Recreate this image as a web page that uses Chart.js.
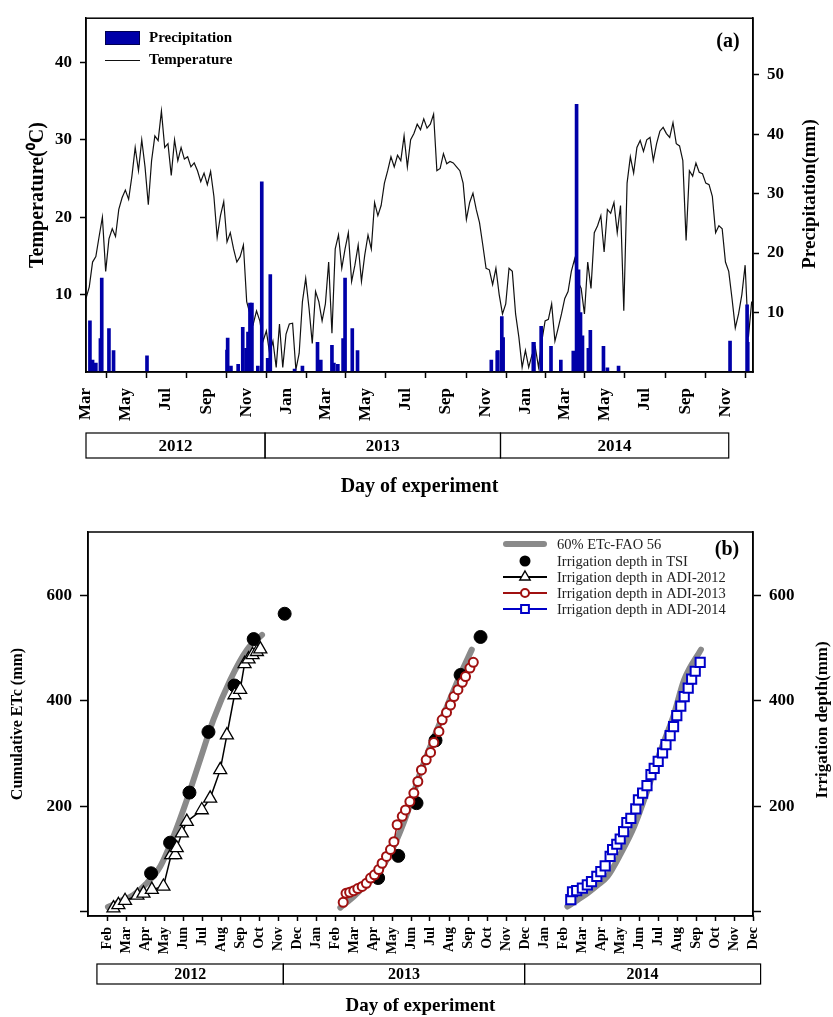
<!DOCTYPE html>
<html>
<head>
<meta charset="utf-8">
<script src="https://cdn.jsdelivr.net/npm/chart.js@4.4.0/dist/chart.umd.min.js"></script>
<style>
html, body { margin: 0; padding: 0; background: #fff; }
#wrap { position: relative; width: 833px; height: 1017px; }
#chartA { position: absolute; left: 0; top: 0; }
#chartB { position: absolute; left: 0; top: 500px; }
</style>
</head>
<body>
<div id="wrap">
  <canvas id="chartA" width="833" height="500"></canvas>
  <canvas id="chartB" width="833" height="517"></canvas>
</div>
<script>
// ======================
// Panel (a) data
// ======================
// daily temperature, one value every 5 days from 1 Mar 2012
const tempStepDays = 5;
const tempValues = [
    9.5, 11, 14.2, 14.9, 17.5, 20, 13, 17.2, 18.5, 17.5,
    21, 22.5, 23.5, 22.3, 25.3, 29, 26, 30, 26.5, 21.6,
    27.3, 30.5, 29.9, 33.7, 29, 29.5, 25.4, 30, 27.3, 29,
    27.5, 27.8, 26.5, 27, 26, 24.6, 25.7, 24.2, 25.9, 22.7,
    17.4, 20.2, 22, 16.8, 18, 15.9, 14.2, 14.9, 16.4, 9.1,
    7.5, 6.2, 7.9, 6.6, 4, 5.3, 2.4, 4, 0.6, 6.2,
    0.6, 4.9, 6.2, 6.3, 0.3, 2.4, 9.1, 12.1, 8.3, 3.7,
    10.4, 9.1, 6.6, 8.8, 14.2, 5, 15.9, 17.7, 13.4, 15.9,
    18, 11.7, 13.8, 16.4, 11.7, 15.1, 17.7, 15.9, 21.9, 20.2,
    21.5, 24.4, 26, 27.8, 26.5, 28, 27.3, 30.5, 26.5, 30,
    30.8, 32, 31.3, 32.7, 31.5, 32, 33.3, 26, 26.3, 28.2,
    26.9, 27.2, 27, 26.5, 26, 24.4, 19.7, 21.9, 23.1, 21,
    19.3, 16.4, 13.4, 13.2, 11.3, 13.4, 10, 7.5, 8.8, 13.4,
    13, 7.5, 4.5, 0.6, 2.8, 0.6, 2.2, 3.2, 0.6, 4,
    6.6, 6.8, 8.8, 4, 5.7, 7.5, 9.5, 10.4, 13, 14.6,
    11.7, 10.8, 7.5, 14.2, 10.8, 18, 18.9, 20.2, 15.5, 21,
    20.5, 21.9, 18, 21.5, 7.9, 24.4, 27.8, 25.7, 29, 29.9,
    28.5, 30, 30.3, 27.3, 29.5, 31.1, 31.6, 30.8, 30.3, 32.2,
    29.5, 29.2, 27.3, 17, 26, 25.3, 27, 25.8, 25.6, 24.4,
    24.2, 22.7, 18, 18.9, 18.5, 14.2, 13, 9.5, 5.7, 7.5,
    10, 13.8, 4.5, 9.1
];

const precipDates = [
    "2012-03-07", "2012-03-11", "2012-03-16", "2012-03-23", "2012-03-25", "2012-04-05", "2012-04-12",
    "2012-06-02", "2012-10-02", "2012-10-03", "2012-10-08", "2012-10-19", "2012-10-26", "2012-10-31",
    "2012-11-03", "2012-11-06", "2012-11-09", "2012-11-18", "2012-11-24", "2012-12-03", "2012-12-07",
    "2013-01-13", "2013-01-25", "2013-02-17", "2013-02-22", "2013-03-11", "2013-03-14", "2013-03-20",
    "2013-03-28", "2013-03-31", "2013-04-11", "2013-04-19", "2013-11-09", "2013-11-18", "2013-11-19",
    "2013-11-25", "2013-11-27", "2014-01-12", "2014-01-13", "2014-01-24", "2014-02-08", "2014-02-23",
    "2014-03-14", "2014-03-19", "2014-03-22", "2014-03-25", "2014-03-28", "2014-04-06", "2014-04-09",
    "2014-04-29", "2014-05-05", "2014-05-22", "2014-11-08", "2014-12-04", "2014-12-05"
];
const precipMm = [
    8.6, 2.0, 1.5, 5.6, 15.8, 7.3, 3.6,
    2.7, 3.7, 5.7, 1.0, 1.3, 7.5, 4.0,
    6.7, 11.6, 11.6, 1.0, 32, 2.3, 16.4,
    0.5, 1.0, 5.0, 2.0, 4.5, 1.5, 1.3,
    5.6, 15.8, 7.3, 3.6, 2.0, 3.5, 3.6,
    9.3, 5.8, 5.0, 5.0, 7.7, 4.3, 2.0,
    3.5, 45, 17.2, 10, 6.1, 4.0, 7.0,
    4.3, 0.7, 1.0, 5.2, 11.3, 5.0
];

const tickDatesA = [
    "2012-03-01", "2012-05-01", "2012-07-01", "2012-09-01", "2012-11-01",
    "2013-01-01", "2013-03-01", "2013-05-01", "2013-07-01", "2013-09-01", "2013-11-01",
    "2014-01-01", "2014-03-01", "2014-05-01", "2014-07-01", "2014-09-01", "2014-11-01"
];
const tickLabelsA = ["Mar", "May", "Jul", "Sep", "Nov", "Jan", "Mar", "May", "Jul", "Sep", "Nov",
                     "Jan", "Mar", "May", "Jul", "Sep", "Nov"];
const tempTicks = [10, 20, 30, 40];
const precipTicks = [10, 20, 30, 40, 50];
const yearsA = ["2012", "2013", "2014"];
const yearEdgesA = [0, 273, 632, 980];   // days from 1 Mar 2012

// ======================
// Panel (b) data  (x = months since Jan 2012)
// ======================
const monthLabelsB = [
    "Feb", "Mar", "Apr", "May", "Jun", "Jul", "Aug", "Sep", "Oct", "Nov", "Dec",
    "Jan", "Feb", "Mar", "Apr", "May", "Jun", "Jul", "Aug", "Sep", "Oct", "Nov", "Dec",
    "Jan", "Feb", "Mar", "Apr", "May", "Jun", "Jul", "Aug", "Sep", "Oct", "Nov", "Dec"
];
const etcTicks = [0, 200, 400, 600];
const yearsB = ["2012", "2013", "2014"];
const yearEdgesB = [0.47, 10.28, 22.98, 35.4];

const fao2012Month = [1.05, 1.7, 2.39, 3.09, 3.8, 4.5, 5.2, 5.9, 6.6, 7.49, 8.37, 9.16];
const fao2012Etc   = [9, 20, 32, 54, 86, 143, 212, 288, 364, 440, 497, 525];
const fao2013Month = [13.28, 13.99, 14.69, 15.39, 16.09, 16.8, 17.5, 18.2, 18.9, 19.6, 20.2];
const fao2013Etc   = [8, 29, 54, 80, 124, 187, 265, 330, 390, 450, 497];
const fao2014Month = [25.23, 25.75, 26.28, 26.8, 27.34, 28.05, 28.75, 29.45, 30.15, 30.8, 31.38, 32.26];
const fao2014Etc   = [10, 22, 35, 50, 67, 111, 162, 231, 307, 370, 440, 497];

const tsiMonth = [3.32, 4.32, 5.34, 6.34, 7.71, 8.72, 10.35, 15.27, 16.33, 17.29, 18.29, 19.61, 20.66];
const tsiDepth = [73, 131, 226, 341, 429, 517, 565, 64, 106, 206, 325, 449, 521];

const adi2012Month = [1.34, 1.6, 1.95, 2.6, 2.92, 3.36, 3.97, 4.38, 4.59, 4.67, 4.94, 5.2,
                      5.99, 6.43, 6.96, 7.31, 7.71, 8.01, 8.24, 8.45, 8.66, 8.89, 9.07];
const adi2012Depth = [7, 13, 21, 31, 35, 42, 48, 108, 108, 121, 149, 171,
                      193, 215, 269, 335, 411, 421, 470, 479, 487, 493, 498];

const adi2013Month = [13.43, 13.58, 13.77, 13.99, 14.2, 14.43, 14.65, 14.87, 15.08, 15.3, 15.48, 15.71,
                      15.92, 16.1, 16.27, 16.54, 16.71, 16.94, 17.15, 17.36, 17.55, 17.8, 18.03, 18.2,
                      18.47, 18.64, 18.87, 19.08, 19.26, 19.47, 19.7, 19.87, 20.1, 20.28];
const adi2013Depth = [18, 35, 37, 40, 44, 48, 54, 64, 70, 80, 92, 105,
                      118, 133, 165, 181, 193, 209, 225, 247, 269, 288, 302, 321,
                      342, 364, 378, 392, 408, 421, 435, 446, 462, 473];

const adi2014Month = [25.41, 25.5, 25.72, 26.02, 26.28, 26.5, 26.78, 26.99, 27.22, 27.48, 27.61, 27.83,
                      28.01, 28.19, 28.36, 28.57, 28.83, 28.97, 29.19, 29.42, 29.63, 29.8, 30.01, 30.24,
                      30.42, 30.64, 30.82, 30.99, 31.2, 31.38, 31.59, 31.77, 31.96, 32.22];
const adi2014Depth = [23, 38, 40, 45, 51, 57, 67, 76, 87, 105, 118, 128,
                      138, 152, 169, 177, 195, 212, 225, 239, 260, 272, 285, 301,
                      317, 334, 351, 372, 390, 408, 424, 441, 456, 473];

// ======================
// Shared helpers
// ======================
const SERIF = "'Liberation Serif', 'Times New Roman', serif";
Chart.defaults.font.family = SERIF;
Chart.defaults.color = "#000";

const BLUE_BAR = "#0000a8";
const RED = "#a01010";
const BLUE = "#0000c8";
const GRAY = "#8a8a8a";

const dayOf = s => {
    const [y, m, d] = s.split("-").map(Number);
    return (Date.UTC(y, m - 1, d) - Date.UTC(2012, 2, 1)) / 86400000;
};
const pairs = (xs, ys) => xs.map((x, i) => ({ x: x, y: ys[i] }));

// frame around plot area + year boxes under the month axis
function drawFrameAndYears(chart, edges, years, boxTop, boxBottom, fontSize) {
    const { ctx, chartArea: a, scales } = chart;
    ctx.save();
    ctx.strokeStyle = "#000";
    ctx.lineWidth = 1.5;
    ctx.strokeRect(a.left, a.top, a.right - a.left, a.bottom - a.top);

    ctx.lineWidth = 1.2;
    ctx.fillStyle = "#000";
    ctx.font = "bold " + fontSize + "px " + SERIF;
    ctx.textAlign = "center";
    ctx.textBaseline = "middle";
    for (let i = 0; i < years.length; i++) {
        const x0 = scales.x.getPixelForValue(edges[i]);
        const x1 = scales.x.getPixelForValue(edges[i + 1]);
        ctx.strokeRect(x0, boxTop, x1 - x0, boxBottom - boxTop);
        ctx.fillText(years[i], (x0 + x1) / 2, (boxTop + boxBottom) / 2 + 1);
    }
    ctx.restore();
}

// right axis titles read bottom-to-top in the original, so they are drawn by hand
function drawRotated(ctx, text, x, y, font) {
    ctx.save();
    ctx.translate(x, y);
    ctx.rotate(-Math.PI / 2);
    ctx.font = font;
    ctx.fillStyle = "#000";
    ctx.textAlign = "center";
    ctx.textBaseline = "middle";
    ctx.fillText(text, 0, 0);
    ctx.restore();
}

const axisLine = { display: true, color: "#000", width: 1.5 };
const tickGrid = len => ({ drawOnChartArea: false, drawTicks: true, tickLength: len, tickColor: "#000", tickWidth: 1.5 });

// ======================
// Panel (a)
// ======================
const decorA = {
    id: "decorA",
    afterDraw(chart) {
        const ctx = chart.ctx;
        drawFrameAndYears(chart, yearEdgesA, yearsA, 433, 458, 17);
        drawRotated(ctx, "Precipitation(mm)", 810, 194, "bold 19px " + SERIF);

        ctx.save();
        // legend
        ctx.fillStyle = BLUE_BAR;
        ctx.fillRect(105, 31, 35, 14);
        ctx.strokeStyle = "#000050";
        ctx.lineWidth = 1;
        ctx.strokeRect(105.5, 31.5, 34, 13);
        ctx.strokeStyle = "#111";
        ctx.beginPath();
        ctx.moveTo(105, 60.5);
        ctx.lineTo(140, 60.5);
        ctx.stroke();
        ctx.fillStyle = "#000";
        ctx.font = "bold 15px " + SERIF;
        ctx.textAlign = "left";
        ctx.textBaseline = "middle";
        ctx.fillText("Precipitation", 149, 38);
        ctx.fillText("Temperature", 149, 60);
        // panel letter
        ctx.font = "bold 20px " + SERIF;
        ctx.textAlign = "center";
        ctx.fillText("(a)", 728, 42);
        ctx.restore();
    }
};

new Chart(document.getElementById("chartA"), {
    type: "line",
    data: {
        datasets: [
            {
                type: "bar",
                label: "Precipitation",
                data: precipDates.map((d, i) => ({ x: dayOf(d), y: precipMm[i] })),
                yAxisID: "y2",
                backgroundColor: BLUE_BAR,
                barThickness: 3,
                order: 0
            },
            {
                type: "line",
                label: "Temperature",
                data: tempValues.map((t, i) => ({ x: i * tempStepDays, y: t })),
                yAxisID: "y",
                borderColor: "#111",
                borderWidth: 1.2,
                pointRadius: 0,
                tension: 0,
                order: 1
            }
        ]
    },
    options: {
        responsive: false,
        animation: false,
        layout: { padding: { top: 12, left: 0, right: 0, bottom: 0 } },
        plugins: { legend: { display: false }, tooltip: { enabled: false } },
        scales: {
            x: {
                type: "linear",
                min: 0, max: 1017,
                offset: false,
                afterBuildTicks: s => { s.ticks = tickDatesA.map(d => ({ value: dayOf(d) })); },
                afterFit: s => { s.height = 128; },
                ticks: {
                    autoSkip: false, minRotation: 90, maxRotation: 90, padding: 10,
                    font: { size: 17, weight: "bold" },
                    callback: (v, i) => tickLabelsA[i]
                },
                grid: tickGrid(6),
                border: axisLine,
                title: {
                    display: true, text: "Day of experiment",
                    font: { size: 20, weight: "bold", lineHeight: 1.2 },
                    padding: { top: 0, bottom: 1 }
                }
            },
            y: {
                position: "left",
                min: 0, max: 45.7,
                afterBuildTicks: s => { s.ticks = tempTicks.map(v => ({ value: v })); },
                afterFit: s => { s.width = 86; },
                ticks: { padding: 8, font: { size: 17, weight: "bold" } },
                grid: tickGrid(6),
                border: axisLine,
                title: {
                    display: true, text: "Temperature(⁰C)",
                    font: { size: 20, weight: "bold", lineHeight: 1.2 },
                    padding: { top: 26, bottom: 0 }
                }
            },
            y2: {
                position: "right",
                min: 0, max: 59.5,
                afterBuildTicks: s => { s.ticks = precipTicks.map(v => ({ value: v })); },
                afterFit: s => { s.width = 80; },
                ticks: { padding: 8, font: { size: 17, weight: "bold" } },
                grid: tickGrid(6),
                border: axisLine
            }
        }
    },
    plugins: [decorA]
});

// ======================
// Panel (b)
// ======================
const legendB = [
    { text: "60% ETc-FAO 56", kind: "band" },
    { text: "Irrigation depth in TSI", kind: "dot" },
    { text: "Irrigation depth in ADI-2012", kind: "marker", color: "#000", style: "triangle", r: 6 },
    { text: "Irrigation depth in ADI-2013", kind: "marker", color: RED, style: "circle", r: 4 },
    { text: "Irrigation depth in ADI-2014", kind: "marker", color: BLUE, style: "rect", r: 5.5 }
];

const decorB = {
    id: "decorB",
    afterDraw(chart) {
        const ctx = chart.ctx;
        drawFrameAndYears(chart, yearEdgesB, yearsB, 464, 484, 16);
        drawRotated(ctx, "Irrigation depth(mm)", 823, 220, "bold 17px " + SERIF);

        ctx.save();
        const x0 = 503, x1 = 547, xc = 525, tx = 557;
        const rows = [44, 61, 77, 93, 109];
        ctx.textAlign = "left";
        ctx.textBaseline = "middle";
        legendB.forEach((item, i) => {
            const y = rows[i];
            if (item.kind === "band") {
                ctx.strokeStyle = GRAY;
                ctx.lineWidth = 6;
                ctx.lineCap = "round";
                ctx.beginPath(); ctx.moveTo(x0 + 3, y); ctx.lineTo(x1 - 3, y); ctx.stroke();
                ctx.lineCap = "butt";
            } else if (item.kind === "dot") {
                ctx.fillStyle = "#000";
                ctx.beginPath(); ctx.arc(xc, y, 5.5, 0, Math.PI * 2); ctx.fill();
            } else {
                ctx.strokeStyle = item.color;
                ctx.lineWidth = 1.8;
                ctx.beginPath(); ctx.moveTo(x0, y); ctx.lineTo(x1, y); ctx.stroke();
                ctx.fillStyle = "#fff";
                ctx.lineWidth = item.style === "triangle" ? 1.4 : 2;
                Chart.helpers.drawPoint(ctx, { pointStyle: item.style, radius: item.r, borderWidth: ctx.lineWidth, rotation: 0 }, xc, y);
            }
            ctx.fillStyle = "#222";
            ctx.font = "14.5px " + SERIF;
            ctx.fillText(item.text, tx, y + 1);
        });
        ctx.fillStyle = "#000";
        ctx.font = "bold 20px " + SERIF;
        ctx.textAlign = "center";
        ctx.fillText("(b)", 727, 50);
        ctx.restore();
    }
};

const faoStyle = {
    borderColor: GRAY, borderWidth: 6, pointRadius: 0,
    cubicInterpolationMode: "monotone", borderCapStyle: "round", order: 10
};

new Chart(document.getElementById("chartB"), {
    type: "line",
    data: {
        datasets: [
            Object.assign({ label: "60% ETc-FAO 56", data: pairs(fao2012Month, fao2012Etc) }, faoStyle),
            Object.assign({ label: "60% ETc-FAO 56 (2013)", data: pairs(fao2013Month, fao2013Etc) }, faoStyle),
            Object.assign({ label: "60% ETc-FAO 56 (2014)", data: pairs(fao2014Month, fao2014Etc) }, faoStyle),
            {
                label: "Irrigation depth in TSI",
                data: pairs(tsiMonth, tsiDepth),
                showLine: false,
                pointStyle: "circle", pointRadius: 6.5,
                pointBackgroundColor: "#000", pointBorderColor: "#000",
                order: 5
            },
            {
                label: "Irrigation depth in ADI-2012",
                data: pairs(adi2012Month, adi2012Depth),
                borderColor: "#000", borderWidth: 1.5,
                pointStyle: "triangle", pointRadius: 7.5,
                pointBackgroundColor: "#fff", pointBorderColor: "#000", pointBorderWidth: 1.3,
                order: 4
            },
            {
                label: "Irrigation depth in ADI-2013",
                data: pairs(adi2013Month, adi2013Depth),
                borderColor: RED, borderWidth: 1.5,
                pointStyle: "circle", pointRadius: 4.5,
                pointBackgroundColor: "#fff", pointBorderColor: RED, pointBorderWidth: 2,
                order: 3
            },
            {
                label: "Irrigation depth in ADI-2014",
                data: pairs(adi2014Month, adi2014Depth),
                borderColor: BLUE, borderWidth: 1.5,
                pointStyle: "rect", pointRadius: 6.5,
                pointBackgroundColor: "#fff", pointBorderColor: BLUE, pointBorderWidth: 2,
                order: 2
            }
        ]
    },
    options: {
        responsive: false,
        animation: false,
        layout: { padding: { top: 32, left: 0, right: 0, bottom: 0 } },
        plugins: { legend: { display: false }, tooltip: { enabled: false } },
        scales: {
            x: {
                type: "linear",
                min: 0, max: 35,
                afterBuildTicks: s => { s.ticks = monthLabelsB.map((m, i) => ({ value: i + 1 })); },
                afterFit: s => { s.height = 101; },
                ticks: {
                    autoSkip: false, minRotation: 90, maxRotation: 90, padding: 6,
                    font: { size: 14, weight: "bold" },
                    callback: (v, i) => monthLabelsB[i]
                },
                grid: tickGrid(5),
                border: axisLine,
                title: {
                    display: true, text: "Day of experiment",
                    font: { size: 19, weight: "bold", lineHeight: 1 },
                    padding: { top: 0, bottom: 1 }
                }
            },
            y: {
                position: "left",
                min: -8, max: 720,
                afterBuildTicks: s => { s.ticks = etcTicks.map(v => ({ value: v })); },
                afterFit: s => { s.width = 88; },
                ticks: { padding: 8, font: { size: 17, weight: "bold" }, callback: v => (v === 0 ? "" : v) },
                grid: tickGrid(8),
                border: axisLine,
                title: {
                    display: true, text: "Cumulative ETc (mm)",
                    font: { size: 16, weight: "bold", lineHeight: 1.2 },
                    padding: { top: 8, bottom: 0 }
                }
            },
            y2: {
                position: "right",
                min: -8, max: 720,
                afterBuildTicks: s => { s.ticks = etcTicks.map(v => ({ value: v })); },
                afterFit: s => { s.width = 80; },
                ticks: { padding: 8, font: { size: 17, weight: "bold" }, callback: v => (v === 0 ? "" : v) },
                grid: tickGrid(8),
                border: axisLine
            }
        }
    },
    plugins: [decorB]
});
</script>
</body>
</html>
